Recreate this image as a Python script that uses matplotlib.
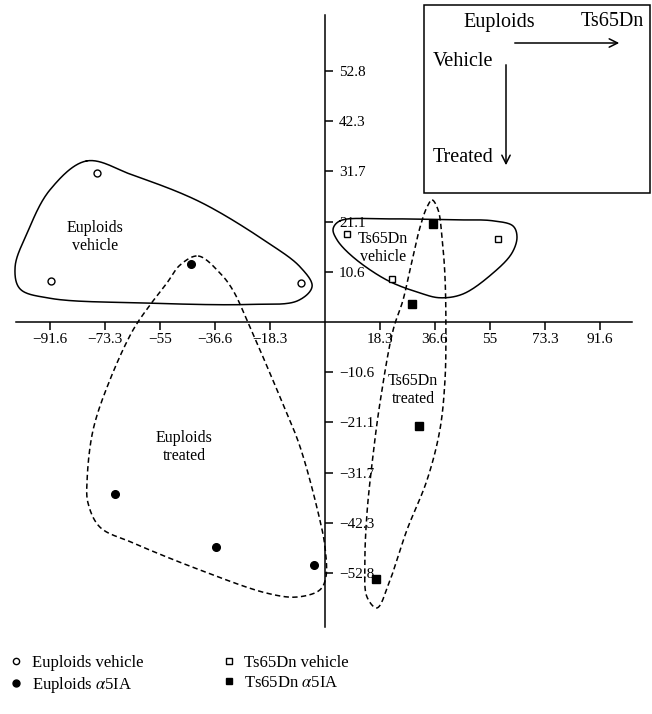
import numpy as np
import matplotlib.pyplot as plt
from matplotlib.lines import Line2D
from matplotlib.patches import Rectangle, FancyArrowPatch

plt.rcParams['font.family'] = ['Liberation Serif', 'DejaVu Serif']
plt.rcParams['mathtext.fontset'] = 'stix'

# Точки (координаты на плоскости главных компонент)
eup_veh_x = [-75.9, -91.3, -8.0]
eup_veh_y = [31.3, 8.6, 8.3]
eup_a5_x = [-44.8, -70.0, -36.3, -3.7]
eup_a5_y = [12.2, -36.3, -47.3, -51.2]
ts_veh_x = [7.2, 22.3, 57.6]
ts_veh_y = [18.5, 9.05, 17.5]
ts_a5_x = [36.1, 29.1, 31.4, 16.9]
ts_a5_y = [20.6, 3.8, -21.9, -54.0]

xticks = [-91.6, -73.3, -55, -36.6, -18.3, 18.3, 36.6, 55, 73.3, 91.6]
xtick_labels = ['\u221291.6', '\u221273.3', '\u221255', '\u221236.6', '\u221218.3',
                '18.3', '36.6', '55', '73.3', '91.6']
yticks = [-52.8, -42.3, -31.7, -21.1, -10.6, 10.6, 21.1, 31.7, 42.3, 52.8]
ytick_labels = ['\u221252.8', '\u221242.3', '\u221231.7', '\u221221.1', '\u221210.6',
                '10.6', '21.1', '31.7', '42.3', '52.8']

# Контуры групп (от руки)
ev_cx = [-79.5, -91.7, -99.3, -103.3, -101.7, -91.7, -60.0, -25.0, -9.0, -4.3,
         -8.3, -19.3, -41.7, -64.0]
ev_cy = [33.9, 27.8, 18.7, 11.6, 7.0, 5.0, 4.0, 3.7, 4.5, 7.5,
         11.6, 16.8, 25.3, 30.9]
et_cx = [-42.3, -35.0, -30.7, -25.0, -15.0, -8.3, -1.7, 0.0, 0.3, -1.7, -9.3, -19.3,
         -41.7, -64.0, -75.0, -79.0, -79.3, -77.3, -71.7, -64.0, -58.3, -52.7, -48.3]
et_cy = [13.9, 10.3, 6.7, -1.1, -15.8, -26.3, -41.7, -47.4, -53.7, -56.4, -57.9, -57.1,
         -52.2, -46.5, -43.2, -38.1, -33.3, -22.7, -12.2, -1.7, 3.6, 8.2, 12.0]
tv_cx = [5.0, 20.7, 42.7, 56.0, 62.7, 64.0, 62.3, 56.0, 46.0, 38.3, 31.7, 20.7, 9.3, 4.0, 2.7]
tv_cy = [21.3, 21.7, 21.5, 21.3, 20.2, 17.9, 14.5, 10.3, 5.9, 5.1, 6.1, 8.8, 13.7, 17.3, 19.6]
tt_cx = [35.7, 37.7, 39.0, 40.0, 40.3, 40.0, 38.3, 34.0, 27.3, 21.7, 17.3, 14.0, 13.3,
         14.0, 15.7, 18.3, 22.7, 26.0, 28.3, 31.7, 34.0]
tt_cy = [25.7, 23.6, 17.9, 9.5, -1.7, -12.2, -22.7, -33.3, -43.8, -54.3, -60.2, -57.9, -50.7,
         -40.2, -29.7, -17.1, -1.7, 4.6, 10.9, 20.0, 24.2]

SX, SY = 3.0, 4.75  # пикселей на единицу


def smooth_closed(xs, ys, n=30, a=0.5):
    P = np.column_stack([np.array(xs) * SX, np.array(ys) * SY])
    m = len(P)
    out = []
    for i in range(m):
        P0, P1, P2, P3 = P[i - 1], P[i], P[(i + 1) % m], P[(i + 2) % m]
        t0 = 0.0
        t1 = t0 + np.linalg.norm(P1 - P0) ** a
        t2 = t1 + np.linalg.norm(P2 - P1) ** a
        t3 = t2 + np.linalg.norm(P3 - P2) ** a
        t = np.linspace(t1, t2, n)[:, None]
        A1 = (t1 - t) / (t1 - t0) * P0 + (t - t0) / (t1 - t0) * P1
        A2 = (t2 - t) / (t2 - t1) * P1 + (t - t1) / (t2 - t1) * P2
        A3 = (t3 - t) / (t3 - t2) * P2 + (t - t2) / (t3 - t2) * P3
        B1 = (t2 - t) / (t2 - t0) * A1 + (t - t0) / (t2 - t0) * A2
        B2 = (t3 - t) / (t3 - t1) * A2 + (t - t1) / (t3 - t1) * A3
        C = (t2 - t) / (t2 - t1) * B1 + (t - t1) / (t2 - t1) * B2
        out.append(C)
    out = np.vstack(out + [out[0][:1]])
    return out[:, 0] / SX, out[:, 1] / SY


fig = plt.figure(figsize=(6.52, 7.14), dpi=100)
ax = fig.add_axes([0, 0, 1, 1])
ax.set_xlim(-325 / SX, 327 / SX)
ax.set_ylim(-392 / SY, 322 / SY)

# Оси через начало координат
ax.spines['bottom'].set_position(('data', 0))
ax.spines['right'].set_position(('data', 0))
ax.spines['top'].set_visible(False)
ax.spines['left'].set_visible(False)
ax.spines['bottom'].set_bounds(-103, 102.3)
ax.spines['right'].set_bounds(-64.3, 64.6)
for s in ['bottom', 'right']:
    ax.spines[s].set_linewidth(1.1)
ax.yaxis.tick_right()
ax.xaxis.tick_bottom()
ax.set_xticks(xticks)
ax.set_xticklabels(xtick_labels)
ax.set_yticks(yticks)
ax.set_yticklabels(ytick_labels)
ax.tick_params(axis='both', direction='out', length=6, width=1.1, labelsize=11)
ax.tick_params(axis='x', pad=2)
ax.tick_params(axis='y', pad=4)

# Контуры
for cx, cy, ls in [(ev_cx, ev_cy, '-'), (tv_cx, tv_cy, '-'),
                   (et_cx, et_cy, '--'), (tt_cx, tt_cy, '--')]:
    sx, sy = smooth_closed(cx, cy)
    line, = ax.plot(sx, sy, color='black', lw=1.1, ls=ls)
    if ls == '--':
        line.set_dashes((3.5, 2.2))

# Точки
ax.plot(eup_veh_x, eup_veh_y, 'o', ms=5, mfc='white', mec='black', mew=1.0, ls='none')
ax.plot(eup_a5_x, eup_a5_y, 'o', ms=5.5, color='black', ls='none')
ax.plot(ts_veh_x, ts_veh_y, 's', ms=5, mfc='white', mec='black', mew=1.0, ls='none')
ax.plot(ts_a5_x, ts_a5_y, 's', ms=5.5, color='black', ls='none')

# Подписи групп
lab = dict(fontsize=11.5, ha='center', va='center', linespacing=1.1)
ax.text(-76.7, 17.9, 'Euploids\nvehicle', **lab)
ax.text(-47.0, -26.3, 'Euploids\ntreated', **lab)
ax.text(19.3, 15.6, 'Ts65Dn\nvehicle', **lab)
ax.text(29.3, -14.3, 'Ts65Dn\ntreated', **lab)

# Рамка-схема в правом верхнем углу
W, H = 652, 714
fig.patches.append(Rectangle((424 / W, 1 - 193 / H), 226 / W, 188 / H, transform=fig.transFigure,
                             fill=False, ec='black', lw=1.1))
bt = dict(fontsize=14.5, ha='center', va='center', transform=fig.transFigure)
fig.text(499 / W, 1 - 22 / H, 'Euploids', **bt)
fig.text(612 / W, 1 - 22 / H, 'Ts65Dn', **bt)
fig.text(463 / W, 1 - 62 / H, 'Vehicle', **bt)
fig.text(463 / W, 1 - 157 / H, 'Treated', **bt)
fig.patches.append(FancyArrowPatch((512 / W, 1 - 43 / H), (622 / W, 1 - 43 / H), transform=fig.transFigure,
                                   arrowstyle='->,head_length=6,head_width=3', lw=1.1, color='black'))
fig.patches.append(FancyArrowPatch((506 / W, 1 - 62 / H), (506 / W, 1 - 168 / H), transform=fig.transFigure,
                                   arrowstyle='->,head_length=6,head_width=3', lw=1.1, color='black'))

# Легенда
handles = [
    Line2D([], [], marker='o', ls='none', ms=4.5, mfc='white', mec='black', mew=1.0),
    Line2D([], [], marker='o', ls='none', ms=5, color='black'),
    Line2D([], [], marker='s', ls='none', ms=4.5, mfc='white', mec='black', mew=1.0),
    Line2D([], [], marker='s', ls='none', ms=5, color='black'),
]
labels = ['Euploids vehicle', 'Euploids $\\alpha$5IA', 'Ts65Dn vehicle', 'Ts65Dn $\\alpha$5IA']
fig.legend(handles, labels, loc='upper left', bbox_to_anchor=(8 / W, 1 - 655 / H), ncol=2,
           frameon=False, fontsize=12, handlelength=1.0, handletextpad=0.45,
           columnspacing=4.6, labelspacing=0.25, borderpad=0, borderaxespad=0)

fig.savefig('out.png', dpi=100)
